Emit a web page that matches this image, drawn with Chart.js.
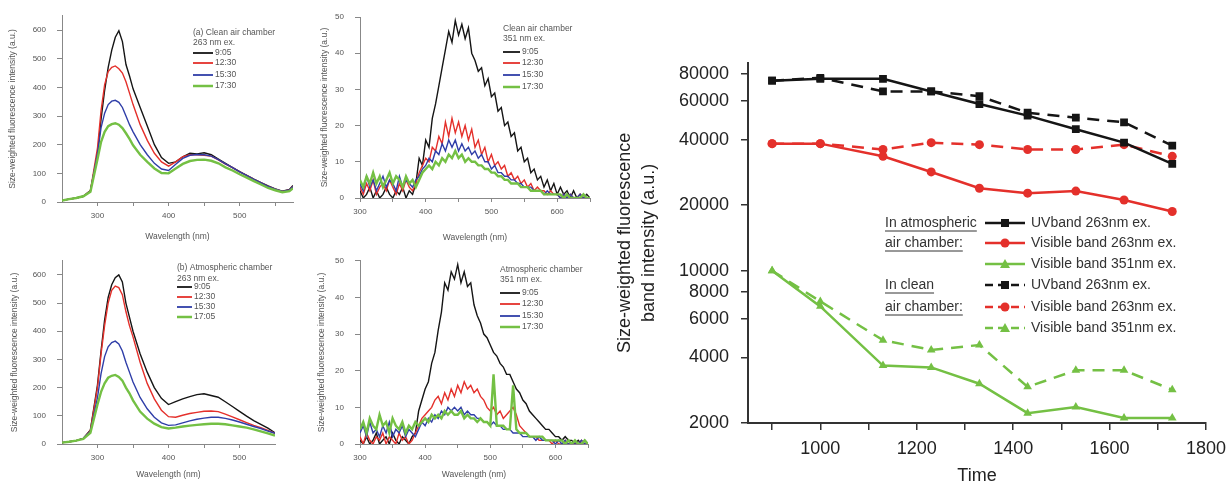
<!DOCTYPE html>
<html>
<head>
<title>Size-weighted fluorescence</title>
<script src="https://cdn.jsdelivr.net/npm/chart.js"></script>
<style>
  html, body { margin: 0; padding: 0; background: #fff; overflow: hidden; }
  .panel { position: absolute; }
</style>
</head>
<body>
<canvas id="panelA" class="panel" width="300" height="245" style="left:0;top:0"></canvas>
<canvas id="panelB" class="panel" width="300" height="245" style="left:300px;top:0"></canvas>
<canvas id="panelC" class="panel" width="300" height="242" style="left:0;top:245px"></canvas>
<canvas id="panelD" class="panel" width="300" height="242" style="left:300px;top:245px"></canvas>
<canvas id="bandChart" class="panel" width="640" height="447" style="left:600px;top:40px"></canvas>

<script>
// ---- spectra, 263 nm excitation (panels a and c) ----
const wlA = [250,260,270,280,290,300,305,310,315,320,325,330,335,340,345,350,360,370,380,390,400,410,420,430,440,450,460,470,480,490,500,510,520,530,540,550,560,570,575];
const cleanUV_0905 = [5,10,14,20,40,170,290,390,470,530,575,598,560,480,440,395,330,265,200,155,135,140,158,170,168,172,165,150,135,120,106,93,80,68,56,46,38,44,58];
const cleanUV_1230 = [5,10,14,20,40,190,320,410,455,470,475,465,450,420,380,340,270,215,170,140,125,140,158,165,165,163,160,147,132,120,105,92,79,67,54,45,37,42,55];
const cleanUV_1530 = [5,10,14,20,38,170,260,310,340,352,355,348,330,300,270,245,200,165,135,115,110,132,152,163,166,165,160,148,133,120,105,92,79,67,54,45,37,42,54];
const cleanUV_1730 = [5,10,14,20,36,150,210,245,265,272,275,270,258,240,220,198,165,140,117,101,100,117,133,143,147,148,144,135,121,110,97,85,73,61,49,41,34,38,48];

const wlC = [250,260,270,280,290,300,305,310,315,320,325,330,335,340,345,350,360,370,380,390,400,410,420,430,440,450,460,470,480,490,500,510,520,530,540,550];
const atmUV_0905 = [5,8,12,20,50,210,330,440,520,565,590,600,575,500,450,400,320,255,200,162,140,150,160,168,175,178,172,166,150,133,116,99,83,70,56,40];
const atmUV_1230 = [5,8,12,20,48,200,320,420,500,545,560,555,530,470,420,380,290,215,160,120,97,95,102,108,112,116,117,115,106,96,86,76,66,58,48,38];
const atmUV_1530 = [5,8,12,20,45,165,250,310,345,360,365,355,330,290,255,220,165,125,95,75,66,68,75,82,88,92,95,95,91,85,78,70,62,55,46,38];
const atmUV_1705 = [5,8,12,18,40,140,185,215,235,242,245,238,225,200,180,155,115,90,72,60,55,58,62,65,68,70,72,72,70,66,62,58,52,45,38,30];

// ---- spectra, 351 nm excitation (panels b and d) ----
const wlB = [300,305,310,315,320,325,330,335,340,345,350,355,360,365,370,375,380,385,
  390,395,400,405,410,415,420,425,430,435,440,445,
  450,455,460,465,470,475,480,485,490,495,500,505,
  510,515,520,525,530,535,540,545,550,555,560,565,
  570,575,580,585,590,595,600,605,610,615,620,625,
  630,635,640,645,650];
const cleanVis_0905 = [2,0,1,3,0,2,0,1,3,1,0,2,1,3,0,2,1,4,
  11,9,16,14,22,26,31,36,41,46,43,49,
  45,48,44,47,40,38,35,36,31,33,28,29,
  24,25,20,21,17,18,13,14,10,11,7,8,
  5,6,3,5,2,4,1,3,1,2,0,2,
  0,1,0,1,0];
const cleanVis_1230 = [3,1,4,2,5,1,3,4,2,5,3,1,4,2,5,3,2,4,
  7,9,11,10,14,13,17,15,21,17,22,18,
  21,17,20,16,19,14,16,12,14,10,12,9,
  10,8,9,6,7,5,6,4,5,3,4,2,
  3,2,2,1,2,1,1,0,1,0,1,0,
  0,1,0,0,0];
const cleanVis_1530 = [4,2,6,3,5,2,4,6,3,5,4,2,6,3,5,4,3,5,
  6,8,9,11,10,13,12,15,13,16,14,16,
  13,15,13,14,12,13,11,12,10,10,8,9,
  7,7,6,6,5,5,4,4,3,3,3,2,
  2,2,1,2,1,1,1,0,1,0,1,0,
  0,1,0,0,0];
const cleanVis_1730 = [5,3,6,4,7,4,6,3,5,7,4,6,5,3,6,4,5,3,
  5,7,8,9,8,10,9,11,10,12,11,13,
  11,12,10,11,10,10,9,9,8,8,7,7,
  6,6,5,5,4,4,4,3,3,3,2,2,
  2,2,1,1,1,1,1,1,0,1,0,0,
  0,0,1,0,0];

const atmVis_0905 = [1,0,2,0,1,3,0,1,2,0,3,1,0,2,1,0,2,3,
  9,12,15,17,22,25,31,36,44,42,47,45,
  49,44,47,43,44,38,35,33,30,29,27,25,
  24,22,21,19,19,17,15,14,12,11,9,8,
  7,6,5,4,4,3,2,2,1,2,1,1,
  0,1,0,1,0];
const atmVis_1230 = [2,0,3,1,0,2,1,3,0,2,1,0,3,1,2,0,1,3,
  5,7,8,9,10,12,13,11,14,12,15,13,
  16,14,17,15,16,14,15,13,12,10,9,10,
  8,9,7,8,9,10,8,5,4,3,2,2,
  2,1,1,1,1,0,1,0,0,1,0,0,
  0,0,1,0,0];
const atmVis_1530 = [3,5,2,6,3,4,2,5,3,6,2,4,3,5,2,4,3,2,
  4,6,5,7,6,8,7,9,8,10,9,10,
  9,10,8,9,8,8,7,7,6,6,5,6,
  5,5,4,4,4,3,3,3,2,2,2,2,
  1,2,1,1,1,1,0,1,0,1,0,0,
  0,0,1,0,0];
const atmVis_1730 = [4,6,3,7,5,4,8,5,6,3,7,5,4,6,3,5,4,6,
  5,6,7,6,8,7,8,7,9,8,9,8,
  8,9,7,8,7,7,6,7,6,6,5,19,
  5,5,5,4,4,16,4,3,3,3,2,2,
  2,2,2,1,1,1,1,1,1,0,1,0,
  1,0,0,1,0];

const spectraTimes = ['9:05', '12:30', '15:30', '17:30'];
const spectraTimesAtm = ['9:05', '12:30', '15:30', '17:05'];

// ---- band intensities vs time (right panel) ----
const times = [900, 1000, 1130, 1230, 1330, 1430, 1530, 1630, 1730];
const atmUVband263 = [74500, 76000, 76000, 66500, 58200, 51500, 44600, 38700, 30900];
const atmVisband263 = [38300, 38300, 33500, 28400, 23900, 22700, 23200, 21100, 18700];
const atmVisband351 = [10000, 6860, 3670, 3600, 3030, 2220, 2370, 2110, 2110];
const cleanUVband263 = [74500, 76800, 66500, 66500, 63200, 53100, 50400, 48000, 37500];
const cleanVisband263 = [38300, 38300, 36000, 38700, 37900, 36000, 36000, 37900, 33500];
const cleanVisband351 = [10000, 7230, 4800, 4330, 4560, 2930, 3490, 3490, 2840];

const yTicksBand = [2000, 4000, 6000, 8000, 10000, 20000, 40000, 60000, 80000];
const xTicksBand = [900, 1000, 1100, 1200, 1300, 1400, 1500, 1600, 1700, 1800];

const FONT = "'Liberation Sans', Arial, sans-serif";
const colors = { black: '#151515', red: '#e4302b', blue: '#2f3ea8', green: '#74c044' };
const specColors = [colors.black, colors.red, colors.blue, colors.green];

function points(xs, ys) {
  return ys.map((y, i) => ({ x: xs[i], y: y }));
}

// legend drawn inside a small spectrum panel
function spectrumLegend(cfg) {
  return {
    id: 'spectrumLegend',
    afterDraw(chart) {
      const ctx = chart.ctx;
      ctx.save();
      ctx.font = '8.5px ' + FONT;
      ctx.textBaseline = 'middle';
      ctx.fillStyle = '#555';
      cfg.header.forEach((t, i) => ctx.fillText(t, cfg.x, cfg.headerY[i]));
      cfg.labels.forEach((label, i) => {
        const y = cfg.rowY[i];
        ctx.strokeStyle = specColors[i];
        ctx.lineWidth = i === 3 ? 2.5 : 1.8;
        ctx.beginPath();
        ctx.moveTo(cfg.x, y);
        ctx.lineTo(cfg.x + cfg.lineLen, y);
        ctx.stroke();
        ctx.fillStyle = '#555';
        ctx.fillText(label, cfg.x + cfg.lineLen + 2, y);
      });
      ctx.restore();
    }
  };
}

function makeSpectrum(id, wl, series, cfg) {
  const tickFont = { family: FONT, size: 8 };
  const titleFont = { family: FONT, size: 8.5 };
  new Chart(document.getElementById(id), {
    type: 'line',
    data: {
      datasets: series.map((ys, i) => ({
        data: points(wl, ys),
        borderColor: specColors[i],
        borderWidth: i === 3 ? 2.4 : 1.4,
        pointRadius: 0,
        tension: 0,
        order: 4 - i
      }))
    },
    options: {
      responsive: false,
      animation: false,
      layout: { padding: cfg.padding },
      plugins: { legend: { display: false }, tooltip: { enabled: false } },
      scales: {
        x: {
          type: 'linear',
          min: cfg.xMin,
          max: cfg.xMax,
          afterBuildTicks: ax => { ax.ticks = cfg.xTicks.map(v => ({ value: v })); },
          afterFit: s => { s.height = cfg.xHeight; },
          ticks: { callback: v => (v % 100 === 0 ? v : ''), font: tickFont, color: '#555', padding: 5, maxRotation: 0, autoSkip: false },
          grid: { drawOnChartArea: false, tickLength: 4, color: '#888' },
          border: { color: '#888' },
          title: { display: true, text: 'Wavelength (nm)', font: titleFont, color: '#555', padding: { top: 0, bottom: cfg.xTitlePad } }
        },
        y: {
          min: 0,
          max: cfg.yMax,
          afterBuildTicks: ax => { ax.ticks = cfg.yTicks.map(v => ({ value: v })); },
          afterFit: s => { s.width = cfg.yWidth; },
          ticks: { font: tickFont, color: '#555', padding: 11, autoSkip: false },
          grid: { drawOnChartArea: false, tickLength: 5, color: '#888' },
          border: { color: '#888' },
          title: { display: true, text: 'Size-weighted fluorescence intensity (a.u.)', font: titleFont, color: '#555', padding: { top: cfg.yTitlePad, bottom: 0 } }
        }
      }
    },
    plugins: [spectrumLegend(cfg.legend)]
  });
}

makeSpectrum('panelA', wlA, [cleanUV_0905, cleanUV_1230, cleanUV_1530, cleanUV_1730], {
  xMin: 250, xMax: 575, xTicks: [300, 350, 400, 450, 500, 550],
  yMax: 650, yTicks: [0, 100, 200, 300, 400, 500, 600],
  padding: { top: 15, right: 7, left: 0, bottom: 0 },
  yWidth: 62, xHeight: 43, xTitlePad: 3, yTitlePad: 8,
  legend: { x: 193, header: ['(a) Clean air chamber', '263 nm ex.'], headerY: [33, 43], rowY: [53, 63, 75, 86], lineLen: 20, labels: spectraTimes }
});

makeSpectrum('panelB', wlB, [cleanVis_0905, cleanVis_1230, cleanVis_1530, cleanVis_1730], {
  xMin: 300, xMax: 650, xTicks: [300, 350, 400, 450, 500, 550, 600, 650],
  yMax: 50, yTicks: [0, 10, 20, 30, 40, 50],
  padding: { top: 17, right: 10, left: 0, bottom: 0 },
  yWidth: 60, xHeight: 47, xTitlePad: 2, yTitlePad: 20,
  legend: { x: 203, header: ['Clean air chamber', '351 nm ex.'], headerY: [29, 39], rowY: [52, 63, 75, 87], lineLen: 17, labels: spectraTimes }
});

makeSpectrum('panelC', wlC, [atmUV_0905, atmUV_1230, atmUV_1530, atmUV_1705], {
  xMin: 250, xMax: 550, xTicks: [300, 350, 400, 450, 500],
  yMax: 650, yTicks: [0, 100, 200, 300, 400, 500, 600],
  padding: { top: 13, right: 25, left: 0, bottom: 0 },
  yWidth: 62, xHeight: 43, xTitlePad: 7, yTitlePad: 10,
  legend: { x: 177, header: ['(b) Atmospheric chamber', '263 nm ex.'], headerY: [23, 34], rowY: [42, 52, 62, 72], lineLen: 15, labels: spectraTimesAtm }
});

makeSpectrum('panelD', wlB, [atmVis_0905, atmVis_1230, atmVis_1530, atmVis_1730], {
  xMin: 300, xMax: 650, xTicks: [300, 350, 400, 450, 500, 550, 600, 650],
  yMax: 50, yTicks: [0, 10, 20, 30, 40, 50],
  padding: { top: 13, right: 12, left: 0, bottom: 0 },
  yWidth: 60, xHeight: 43, xTitlePad: 7, yTitlePad: 17,
  legend: { x: 200, header: ['Atmospheric chamber', '351 nm ex.'], headerY: [25, 35], rowY: [48, 59, 71, 82], lineLen: 20, labels: spectraTimes }
});

// ---- right panel ----
const bandSeries = [
  { label: 'UVband 263nm ex.', data: atmUVband263, color: colors.black, style: 'rect', dashed: false },
  { label: 'Visible band 263nm ex.', data: atmVisband263, color: colors.red, style: 'circle', dashed: false },
  { label: 'Visible band 351nm ex.', data: atmVisband351, color: colors.green, style: 'triangle', dashed: false },
  { label: 'UVband 263nm ex.', data: cleanUVband263, color: colors.black, style: 'rect', dashed: true },
  { label: 'Visible band 263nm ex.', data: cleanVisband263, color: colors.red, style: 'circle', dashed: true },
  { label: 'Visible band 351nm ex.', data: cleanVisband351, color: colors.green, style: 'triangle', dashed: true }
];
const markerRadius = { rect: 5.5, circle: 4.5, triangle: 5 };

function drawMarker(ctx, style, x, y, color) {
  ctx.fillStyle = color;
  ctx.beginPath();
  if (style === 'rect') {
    ctx.rect(x - 4, y - 4, 8, 8);
  } else if (style === 'circle') {
    ctx.arc(x, y, 4.5, 0, Math.PI * 2);
  } else {
    ctx.moveTo(x, y - 5);
    ctx.lineTo(x + 5, y + 4);
    ctx.lineTo(x - 5, y + 4);
    ctx.closePath();
  }
  ctx.fill();
}

const bandLegend = {
  id: 'bandLegend',
  afterDraw(chart) {
    const ctx = chart.ctx;
    const rowY = [183, 203, 224, 245, 267, 288];
    const groups = [['In atmospheric', 0], ['air chamber:', 1], ['In clean', 3], ['air chamber:', 4]];
    ctx.save();
    ctx.font = '14px ' + FONT;
    ctx.textBaseline = 'middle';
    groups.forEach(([t, r]) => {
      ctx.fillStyle = '#333';
      ctx.fillText(t, 285, rowY[r]);
      const w = ctx.measureText(t).width;
      ctx.strokeStyle = '#333';
      ctx.lineWidth = 1;
      ctx.beginPath();
      ctx.moveTo(285, rowY[r] + 8);
      ctx.lineTo(285 + w, rowY[r] + 8);
      ctx.stroke();
    });
    bandSeries.forEach((s, i) => {
      const y = rowY[i];
      ctx.strokeStyle = s.color;
      ctx.lineWidth = 2.5;
      ctx.setLineDash(s.dashed ? [8, 5] : []);
      ctx.beginPath();
      ctx.moveTo(385, y);
      ctx.lineTo(425, y);
      ctx.stroke();
      ctx.setLineDash([]);
      drawMarker(ctx, s.style, 405, y, s.color);
      ctx.fillStyle = '#333';
      ctx.fillText(s.label, 431, y);
    });
    ctx.restore();
  }
};

const bigFont = { family: FONT, size: 18 };
new Chart(document.getElementById('bandChart'), {
  type: 'line',
  data: {
    datasets: bandSeries.map(s => ({
      label: s.label,
      data: points(times, s.data),
      borderColor: s.color,
      backgroundColor: s.color,
      borderWidth: 2.5,
      borderDash: s.dashed ? [12, 8] : [],
      pointStyle: s.style,
      pointRadius: markerRadius[s.style],
      pointBorderWidth: 0,
      tension: 0
    }))
  },
  options: {
    responsive: false,
    animation: false,
    layout: { padding: { top: 10, right: 34, left: 0, bottom: 0 } },
    plugins: { legend: { display: false }, tooltip: { enabled: false } },
    scales: {
      x: {
        type: 'linear',
        min: 850,
        max: 1800,
        afterBuildTicks: ax => { ax.ticks = xTicksBand.map(v => ({ value: v })); },
        afterFit: s => { s.height = 64; },
        ticks: { callback: v => (v % 200 === 0 ? String(v) : ''), font: bigFont, color: '#222', padding: 8, maxRotation: 0, autoSkip: false },
        grid: { drawOnChartArea: false, tickLength: 7, color: '#333', lineWidth: 1.5 },
        border: { color: '#333', width: 2 },
        title: { display: true, text: 'Time', font: bigFont, color: '#222', padding: { top: 0, bottom: 0 } }
      },
      y: {
        type: 'logarithmic',
        min: 2000,
        max: 90000,
        afterBuildTicks: ax => { ax.ticks = yTicksBand.map(v => ({ value: v })); },
        afterFit: s => { s.width = 148; },
        ticks: { callback: v => String(v), font: bigFont, color: '#222', padding: 12, autoSkip: false },
        grid: { drawOnChartArea: false, tickLength: 7, color: '#333', lineWidth: 1.5 },
        border: { color: '#333', width: 2 },
        title: { display: true, text: ['Size-weighted fluorescence', 'band intensity (a.u.)'], font: { family: FONT, size: 18, lineHeight: 1.35 }, color: '#222', padding: { top: 13, bottom: 0 } }
      }
    }
  },
  plugins: [bandLegend]
});
</script>
</body>
</html>
